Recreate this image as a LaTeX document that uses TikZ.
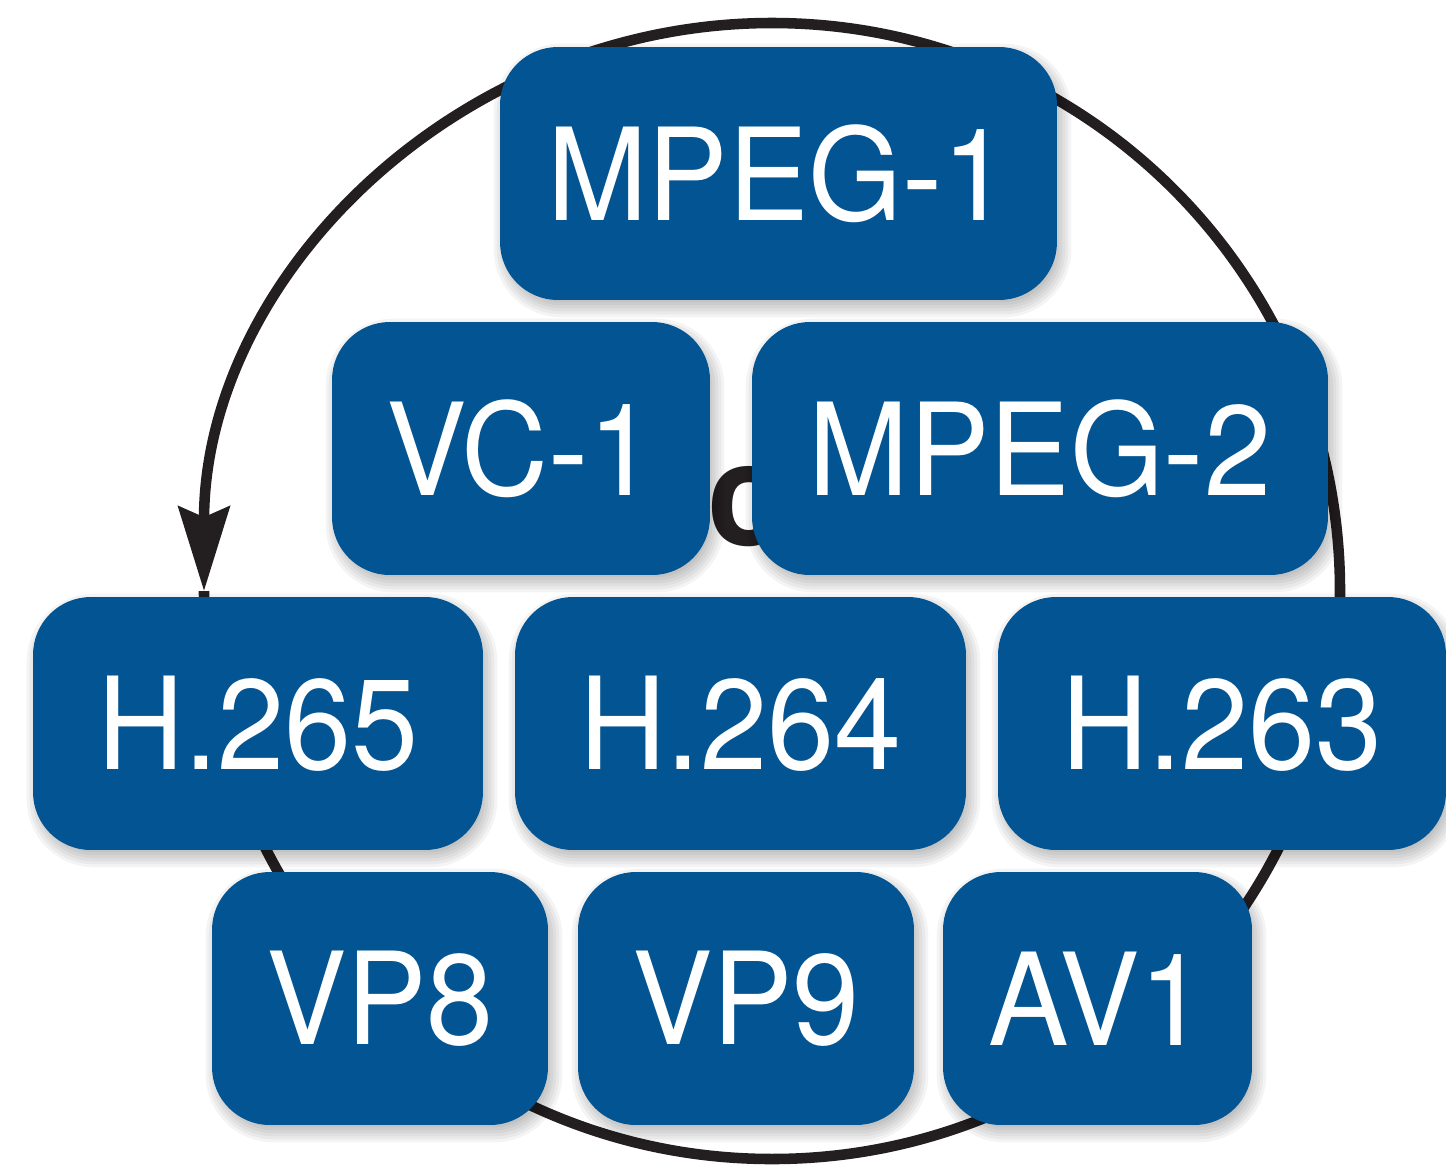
\documentclass[tikz,border=0pt]{standalone}
\usepackage{fontspec}
\setsansfont{TeX Gyre Heros}
\newfontfamily\codecfont[FakeStretch=0.94]{TeX Gyre Heros}
\usetikzlibrary{calc,arrows.meta}

\definecolor{codecblue}{RGB}{2,84,146}
\definecolor{ink}{RGB}{35,31,32}

\pgfdeclarelayer{ringlayer}
\pgfdeclarelayer{shadelayer}
\pgfsetlayers{ringlayer,shadelayer,main}

% soft drop shadow behind a rounded box: stacked translucent rectangles
\newcommand\dropshade[1]{%
  \foreach \s in {-8,-5,-2,1,4,7,10} {
    \pgfmathsetmacro\rc{(58+\s)*0.5669}
    \fill[black, opacity=0.045, rounded corners=\rc pt]
      ($(#1.north west)+(4-\s,7-\s)$) rectangle ($(#1.south east)+(4+\s,7+\s)$);
  }}

\begin{document}
\begin{tikzpicture}[x=0.02cm, y=-0.02cm,
  codec/.style={fill=codecblue, text=white, rounded corners=32.9pt,
    inner sep=0pt, minimum height=5.06cm,
    font=\codecfont\fontsize{73}{80}\selectfont},
  ring/.style={draw=ink, line width=6pt}]
\useasboundingbox (0,0) rectangle (1446,1164);

% codec boxes
\node[codec, minimum width=11.14cm] (mpeg1) at (778.5,173.5) {MPEG-1};
\node[codec, minimum width=7.56cm]  (vc1)   at (521,448.5)   {VC-1};
\node[codec, minimum width=11.52cm] (mpeg2) at (1040,448.5)  {MPEG-2};
\node[codec, minimum width=9.0cm]   (h265)  at (258,723.5)   {H.265};
\node[codec, minimum width=9.02cm]  (h264)  at (740.5,723.5) {H.264};
\node[codec, minimum width=8.96cm]  (h263)  at (1222,723.5)  {H.263};
\node[codec, minimum width=6.72cm]  (vp8)   at (380,998.5)   {VP8};
\node[codec, minimum width=6.72cm]  (vp9)   at (746,998.5)   {VP9};
\node[codec, minimum width=6.18cm]  (av1)   at (1097.5,998.5) {AV1};

\begin{pgfonlayer}{shadelayer}
  \foreach \n in {mpeg1,vc1,mpeg2,h265,h264,h263,vp8,vp9,av1} {\dropshade{\n}}
\end{pgfonlayer}

% the cycle behind the boxes
\begin{pgfonlayer}{ringlayer}
  \node[anchor=base west, inner sep=0pt, text=ink,
    font=\sffamily\bfseries\fontsize{82}{82}\selectfont] (hub) at (707,545) {c};
  \coordinate (ringE) at (1340,591);
  \coordinate (ringW) at (204,591);
  \draw[ring, -{Stealth[length=48pt, width=29pt, inset=6pt]}]
    (ringE) arc[start angle=0, end angle=-180, radius=568];
  \draw[ring] (ringW) arc[start angle=180, end angle=0, radius=568];
\end{pgfonlayer}
\end{tikzpicture}
\end{document}
